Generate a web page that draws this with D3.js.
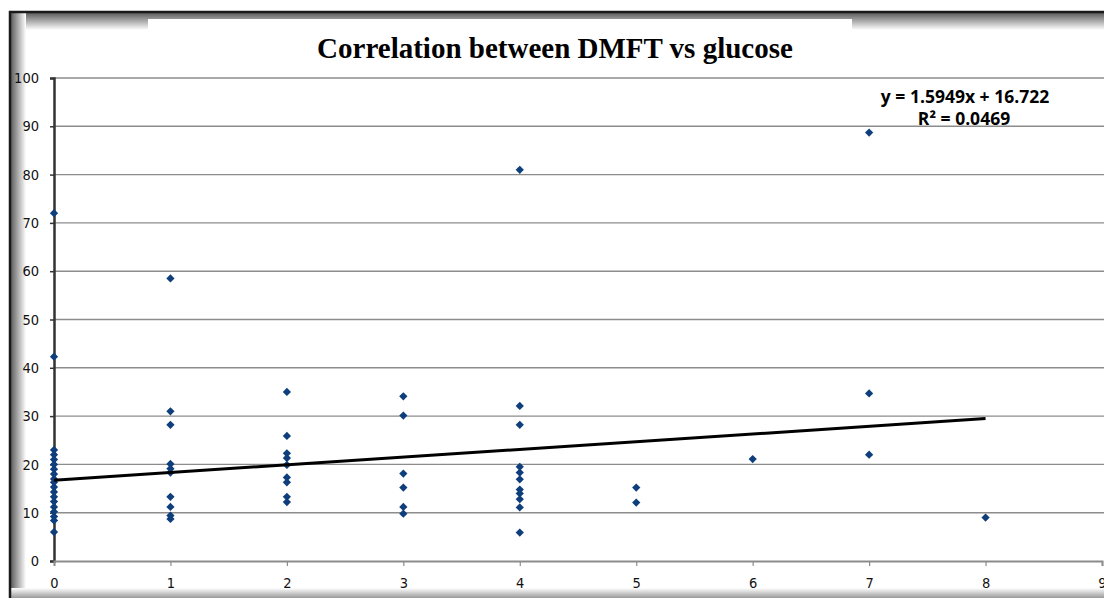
<!DOCTYPE html>
<html>
<head>
<meta charset="utf-8">
<script src="https://cdn.jsdelivr.net/npm/d3@7"></script>
<style>
  body { margin: 0; background: #ffffff; }
  svg { display: block; }
</style>
</head>
<body>
<div id="canvas"></div>
<script>
"use strict"

// DMFT score (x) and glucose value (y) for every point
let dmft = [
    0, 0, 0, 0, 0, 0, 0, 0, 0, 0, 0, 0, 0, 0, 0, 0, 0, 0, 0,
    1, 1, 1, 1, 1, 1, 1, 1, 1, 1,
    2, 2, 2, 2, 2, 2, 2, 2, 2,
    3, 3, 3, 3, 3, 3,
    4, 4, 4, 4, 4, 4, 4, 4, 4, 4, 4,
    5, 5,
    6,
    7, 7, 7,
    8
];
let glucose = [
    72, 42.3, 23, 22, 21, 20, 19, 18, 17, 16.3, 15.3, 14.3, 13.3, 12.3, 11.2, 10.2, 9.2, 8.4, 6,
    58.5, 31, 28.2, 20.1, 19.1, 18.3, 13.3, 11.2, 9.4, 8.7,
    35, 25.9, 22.3, 21.3, 19.9, 17.3, 16.3, 13.3, 12.2,
    34.1, 30.1, 18.1, 15.2, 11.2, 9.8,
    81, 32.1, 28.2, 19.5, 18.3, 16.9, 14.8, 14, 12.8, 11.1, 5.9,
    15.2, 12.1,
    21.1,
    88.7, 34.7, 22,
    9
];

let xTicks = [0, 1, 2, 3, 4, 5, 6, 7, 8, 9];
let yTicks = [0, 10, 20, 30, 40, 50, 60, 70, 80, 90, 100];

// trendline from the chart's equation
let slope = 1.5949;
let intercept = 16.722;
let trendRange = [0, 8];
let titleText = "Correlation between DMFT vs glucose";
let equationText = "y = 1.5949x + 16.722";
let rSquaredText = "R\u00B2 = 0.0469";

let drawing = d3.select("#canvas")
    .append("svg")
    .attr("width", 1104)
    .attr("height", 600);

let defs = drawing.append("defs");

let topShade = defs.append("linearGradient")
    .attr("id", "topShade")
    .attr("x1", 0).attr("y1", 0).attr("x2", 0).attr("y2", 1);
topShade.append("stop").attr("offset", "0%").attr("stop-color", "#555555");
topShade.append("stop").attr("offset", "100%").attr("stop-color", "#ffffff");

let leftShade = defs.append("linearGradient")
    .attr("id", "leftShade")
    .attr("x1", 0).attr("y1", 0).attr("x2", 1).attr("y2", 0);
leftShade.append("stop").attr("offset", "0%").attr("stop-color", "#555555");
leftShade.append("stop").attr("offset", "100%").attr("stop-color", "#ffffff");

let bottomShade = defs.append("linearGradient")
    .attr("id", "bottomShade")
    .attr("x1", 0).attr("y1", 0).attr("x2", 0).attr("y2", 1);
bottomShade.append("stop").attr("offset", "0%").attr("stop-color", "#ffffff");
bottomShade.append("stop").attr("offset", "100%").attr("stop-color", "#9a9a9a");

/* picture frame round the chart */
drawing.append("rect")
    .attr("x", 0).attr("y", 0)
    .attr("width", 1104).attr("height", 600)
    .attr("fill", "#ffffff");

drawing.append("rect")
    .attr("x", 10).attr("y", 12)
    .attr("width", 1094).attr("height", 18)
    .attr("fill", "url(#topShade)");

drawing.append("rect")
    .attr("x", 10).attr("y", 12)
    .attr("width", 16).attr("height", 586)
    .attr("fill", "url(#leftShade)");

drawing.append("rect")
    .attr("x", 10).attr("y", 588)
    .attr("width", 1094).attr("height", 10)
    .attr("fill", "url(#bottomShade)");

drawing.append("path")
    .attr("d", "M10,598 L10,12 L1104,12")
    .attr("fill", "none")
    .attr("stroke", "#1a1a1a")
    .attr("stroke-width", 2.5);

// white box behind the title
drawing.append("rect")
    .attr("x", 148).attr("y", 19)
    .attr("width", 704).attr("height", 46)
    .attr("fill", "#ffffff");

/* scales */
let x = d3.scaleLinear().domain([0, 9]).range([54, 1102]);
let y = d3.scaleLinear().domain([0, 100]).range([561, 78]);

// horizontal gridlines
drawing.append("g")
    .selectAll("line")
    .data(yTicks.filter(d => d > 0))
    .join("line")
    .attr("x1", x(0))
    .attr("x2", 1104)
    .attr("y1", d => y(d))
    .attr("y2", d => y(d))
    .attr("stroke", "#8c8c8c")
    .attr("stroke-width", 1.4);

// y axis
let yAxis = drawing.append("g")
    .attr("transform", "translate(" + x(0) + ",0)")
    .call(d3.axisLeft(y).tickValues(yTicks).tickSize(4).tickPadding(11));
yAxis.select(".domain").attr("stroke", "#333333").attr("stroke-width", 2.5);
yAxis.selectAll(".tick line").attr("stroke", "#333333").attr("stroke-width", 1.5);
yAxis.selectAll("text")
    .attr("font-family", "DejaVu Sans Condensed")
    .attr("font-size", 14.5)
    .attr("fill", "#111111");

// x axis
let xAxis = drawing.append("g")
    .attr("transform", "translate(0," + y(0) + ")")
    .call(d3.axisBottom(x).tickValues(xTicks).tickSize(5).tickPadding(12));
xAxis.select(".domain").attr("stroke", "#8c8c8c").attr("stroke-width", 2);
xAxis.selectAll(".tick line").attr("stroke", "#8c8c8c").attr("stroke-width", 1.2);
xAxis.selectAll("text")
    .attr("font-family", "DejaVu Sans Condensed")
    .attr("font-size", 14.5)
    .attr("fill", "#111111");

/* points as diamonds */
let diamond = d3.symbol().type(d3.symbolSquare).size(34);

drawing.append("g")
    .selectAll("path")
    .data(d3.zip(dmft, glucose))
    .join("path")
    .attr("d", diamond)
    .attr("transform", d => "translate(" + x(d[0]) + "," + y(d[1]) + ") rotate(45)")
    .attr("fill", "#0e3f7c");

/* linear trendline */
drawing.append("line")
    .attr("x1", x(trendRange[0]))
    .attr("y1", y(slope * trendRange[0] + intercept))
    .attr("x2", x(trendRange[1]))
    .attr("y2", y(slope * trendRange[1] + intercept))
    .attr("stroke", "#000000")
    .attr("stroke-width", 3);

/* texts */
drawing.append("text")
    .attr("x", 555)
    .attr("y", 58)
    .attr("text-anchor", "middle")
    .attr("font-family", "Liberation Serif")
    .attr("font-weight", "bold")
    .attr("font-size", 29)
    .attr("fill", "#000000")
    .text(titleText);

drawing.append("text")
    .attr("x", 965)
    .attr("y", 103)
    .attr("text-anchor", "middle")
    .attr("font-family", "Open Sans")
    .attr("font-weight", "bold")
    .attr("font-size", 17.5)
    .attr("fill", "#000000")
    .text(equationText);

drawing.append("text")
    .attr("x", 964)
    .attr("y", 125)
    .attr("text-anchor", "middle")
    .attr("font-family", "Open Sans")
    .attr("font-weight", "bold")
    .attr("font-size", 17.5)
    .attr("fill", "#000000")
    .text(rSquaredText);
</script>
</body>
</html>
